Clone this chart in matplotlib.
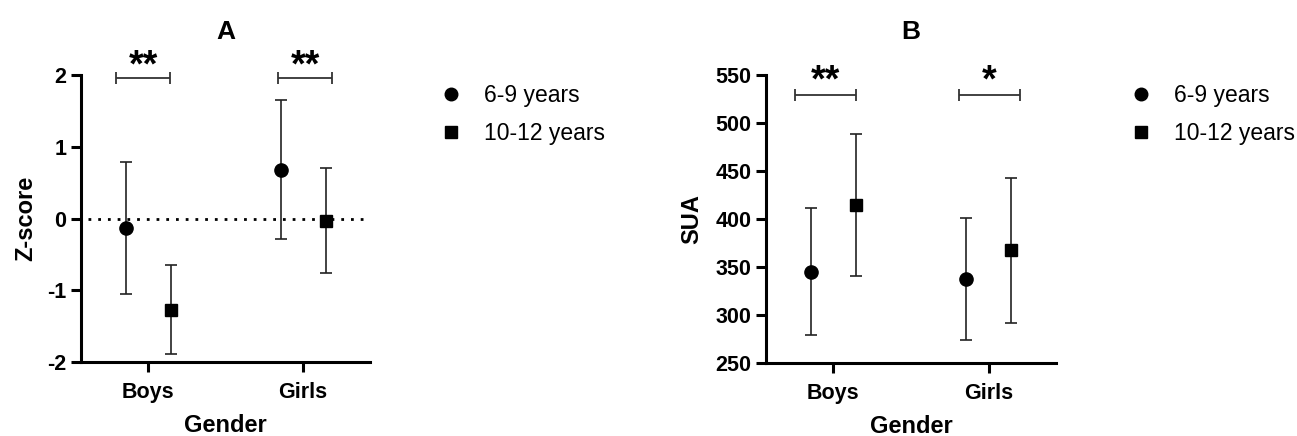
import numpy as np
import matplotlib
matplotlib.use("Agg")
import matplotlib.pyplot as plt
from matplotlib.lines import Line2D

plt.rcParams['font.family'] = ['Liberation Sans', 'DejaVu Sans']

groups = ['Boys', 'Girls']
ages = ['6-9 years', '10-12 years']

# panel A: Z-score, mean with upper / lower whisker per age group
z_mean = {'6-9 years': [-0.13, 0.68], '10-12 years': [-1.27, -0.03]}
z_hi = {'6-9 years': [0.79, 1.65], '10-12 years': [-0.65, 0.70]}
z_lo = {'6-9 years': [-1.05, -0.28], '10-12 years': [-1.89, -0.76]}
z_sig = ['**', '**']

# panel B: SUA
sua_mean = {'6-9 years': [345, 338], '10-12 years': [415, 368]}
sua_hi = {'6-9 years': [411, 401], '10-12 years': [489, 443]}
sua_lo = {'6-9 years': [279, 274], '10-12 years': [341, 292]}
sua_sig = ['**', '*']

markers = {'6-9 years': 'o', '10-12 years': 's'}
msizes = {'6-9 years': 9.5, '10-12 years': 8.5}
offsets = {'6-9 years': -0.145, '10-12 years': 0.145}


def draw_panel(ax, mean, hi, lo, sig, ylim, yticks, ylabel, title,
               sig_y, star_y, sig_spans, ylabelpad):
    x = np.arange(len(groups))
    for age in ages:
        m = np.array(mean[age])
        err = [m - np.array(lo[age]), np.array(hi[age]) - m]
        ax.errorbar(x + offsets[age], m, yerr=err, fmt=markers[age],
                    color='black', ms=msizes[age], ecolor='#222222',
                    elinewidth=1.2, capsize=4.5, capthick=1.2, zorder=3)
    # significance brackets above each group
    for i, s in enumerate(sig):
        x0, x1 = x[i] + sig_spans[i][0], x[i] + sig_spans[i][1]
        ax.errorbar([(x0 + x1) / 2], [sig_y], xerr=[(x1 - x0) / 2],
                    fmt='none', ecolor='#333333', elinewidth=1.3,
                    capsize=4.5, capthick=1.3, clip_on=False)
        ax.text((x0 + x1) / 2, star_y, s, ha='center', va='center',
                fontsize=27, fontweight='bold', clip_on=False)
    ax.set_xlim(-0.432, 1.432)
    ax.set_ylim(*ylim)
    ax.set_yticks(yticks)
    ax.set_xticks(x)
    ax.set_xticklabels(groups)
    ax.spines['top'].set_visible(False)
    ax.spines['right'].set_visible(False)
    for sp in ['left', 'bottom']:
        ax.spines[sp].set_linewidth(2.2)
    ax.tick_params(axis='both', width=2.2, length=7.5, labelsize=15.5)
    ax.tick_params(axis='y', pad=3)
    ax.tick_params(axis='x', pad=7)
    for lab in ax.get_xticklabels() + ax.get_yticklabels():
        lab.set_fontweight('bold')
    ax.set_xlabel('Gender', fontsize=17, fontweight='bold', labelpad=7.5)
    ax.set_ylabel(ylabel, fontsize=17, fontweight='bold', labelpad=ylabelpad)
    ax.set_title(title, fontsize=19, fontweight='bold', pad=26)


fig = plt.figure(figsize=(12.97, 4.36), dpi=100)
axA = fig.add_axes([0.0625, 0.1697, 0.2228, 0.6583])
axB = fig.add_axes([0.5906, 0.1674, 0.2236, 0.6606])

draw_panel(axA, z_mean, z_hi, z_lo, z_sig, (-2, 2), [-2, -1, 0, 1, 2],
           'Z-score', 'A', 1.96, 2.12,
           [(-0.206, 0.142), (-0.161, 0.187)], 7)
axA.set_yticklabels(['-2', '-1', '0', '1', '2'])
axA.axhline(0, xmin=(-0.387 + 0.432) / 1.864, xmax=1, color='black',
            lw=2, linestyle=(0, (1, 2.5)), zorder=1)

draw_panel(axB, sua_mean, sua_hi, sua_lo, sua_sig, (250, 550),
           np.arange(250, 551, 50), 'SUA', 'B', 529, 543,
           [(-0.245, 0.148), (-0.194, 0.2)], 9)

for ax, bx in [(axA, 440 / 1297), (axB, 1130 / 1297)]:
    handles = [Line2D([], [], marker=markers[a], color='black', ls='none',
                      ms=msizes[a] * 0.95) for a in ages]
    fig.legend(handles, ages, loc='upper left', bbox_to_anchor=(bx, 1 - 84 / 436),
               frameon=False, fontsize=16.5, handlelength=1.0,
               handletextpad=0.94, labelspacing=0.67, borderpad=0,
               borderaxespad=0)

fig.savefig('out.png', dpi=100)
